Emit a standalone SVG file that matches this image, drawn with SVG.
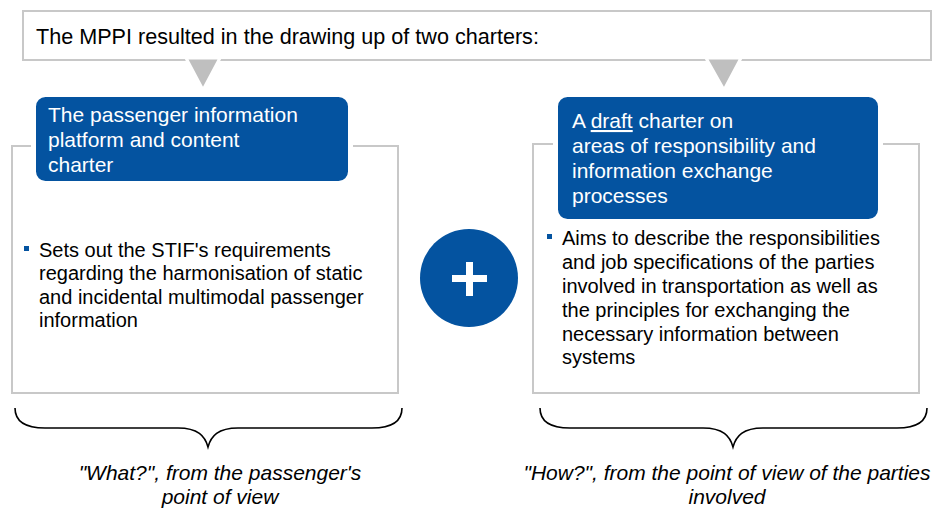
<svg xmlns="http://www.w3.org/2000/svg" width="938" height="509" viewBox="0 0 938 509">
  <style>
    .txt { font-family: "Liberation Sans", Arial, sans-serif; font-size: 20px; fill: #000; }
    .title { font-family: "Liberation Sans", Arial, sans-serif; font-size: 21.6px; fill: #000; }
    .head { font-family: "Liberation Sans", Arial, sans-serif; font-size: 21px; fill: #fff; }
    .note { font-family: "Liberation Sans", Arial, sans-serif; font-size: 21px; font-style: italic; fill: #000; text-anchor: middle; }
    .frame { fill: #fff; stroke: #c8c8c8; stroke-width: 2; }
    .card { fill: #0453a0; stroke: #fff; stroke-width: 5; }
    .pointer { fill: #bfbfbf; stroke: #fff; stroke-width: 3; }
    .brace { fill: none; stroke: #000; stroke-width: 1.6; }
    .bullet { fill: #0453a0; }
  </style>

  <rect width="938" height="509" fill="#fff"/>

  <!-- intro statement -->
  <g id="intro">
    <rect class="frame" x="23" y="11" width="908" height="49"/>
    <text class="title" x="36" y="44">The MPPI resulted in the drawing up of two charters:</text>
  </g>

  <!-- arrows from the statement to each charter -->
  <g id="connectors">
    <polygon class="pointer" points="186,58 220,58 203,90"/>
    <polygon class="pointer" points="706,58 741,58 724,90"/>
  </g>

  <!-- first charter -->
  <g id="charter-content">
    <rect class="frame" x="12" y="146" width="386" height="247"/>
    <rect class="card" x="33.5" y="94.5" width="317" height="89" rx="12"/>
    <text class="head" x="48" y="122">The passenger information</text>
    <text class="head" x="48" y="147">platform and content</text>
    <text class="head" x="48" y="172">charter</text>
    <rect class="bullet" x="24" y="246" width="5" height="5"/>
    <text class="txt" x="39" y="257">Sets out the STIF's requirements</text>
    <text class="txt" x="39" y="280">regarding the harmonisation of static</text>
    <text class="txt" x="39" y="304">and incidental multimodal passenger</text>
    <text class="txt" x="39" y="327">information</text>
  </g>

  <!-- plus sign between the charters -->
  <g id="plus">
    <circle cx="469" cy="278" r="49" fill="#0453a0"/>
    <rect x="452" y="275" width="35" height="7" fill="#fff"/>
    <rect x="466" y="262" width="7" height="34" fill="#fff"/>
  </g>

  <!-- second charter -->
  <g id="charter-responsibility">
    <rect class="frame" x="533" y="144" width="386" height="249"/>
    <rect class="card" x="555.5" y="94.5" width="325" height="127" rx="12"/>
    <text class="head" x="572" y="128">A <tspan text-decoration="underline">draft</tspan> charter on</text>
    <text class="head" x="572" y="153">areas of responsibility and</text>
    <text class="head" x="572" y="178">information exchange</text>
    <text class="head" x="572" y="203">processes</text>
    <rect class="bullet" x="547" y="234" width="5" height="5"/>
    <text class="txt" x="562" y="245">Aims to describe the responsibilities</text>
    <text class="txt" x="562" y="269">and job specifications of the parties</text>
    <text class="txt" x="562" y="293">involved in transportation as well as</text>
    <text class="txt" x="562" y="317">the principles for exchanging the</text>
    <text class="txt" x="562" y="341">necessary information between</text>
    <text class="txt" x="562" y="364">systems</text>
  </g>

  <!-- braces and their captions -->
  <g id="what">
    <path class="brace" d="M15,408 C15,422 25,428 45,428 L178,428 C198,428 205,436 208,447 C211,436 218,428 238,428 L372,428 C392,428 402,422 402,408"/>
    <text class="note" x="220" y="480">"What?", from the passenger's</text>
    <text class="note" x="220" y="504">point of view</text>
  </g>
  <g id="how">
    <path class="brace" d="M540,408 C540,422 550,428 570,428 L703,428 C723,428 730,436 733,447 C736,436 743,428 763,428 L897,428 C917,428 927,422 927,408"/>
    <text class="note" x="727" y="480">"How?", from the point of view of the parties</text>
    <text class="note" x="727" y="504">involved</text>
  </g>
</svg>
